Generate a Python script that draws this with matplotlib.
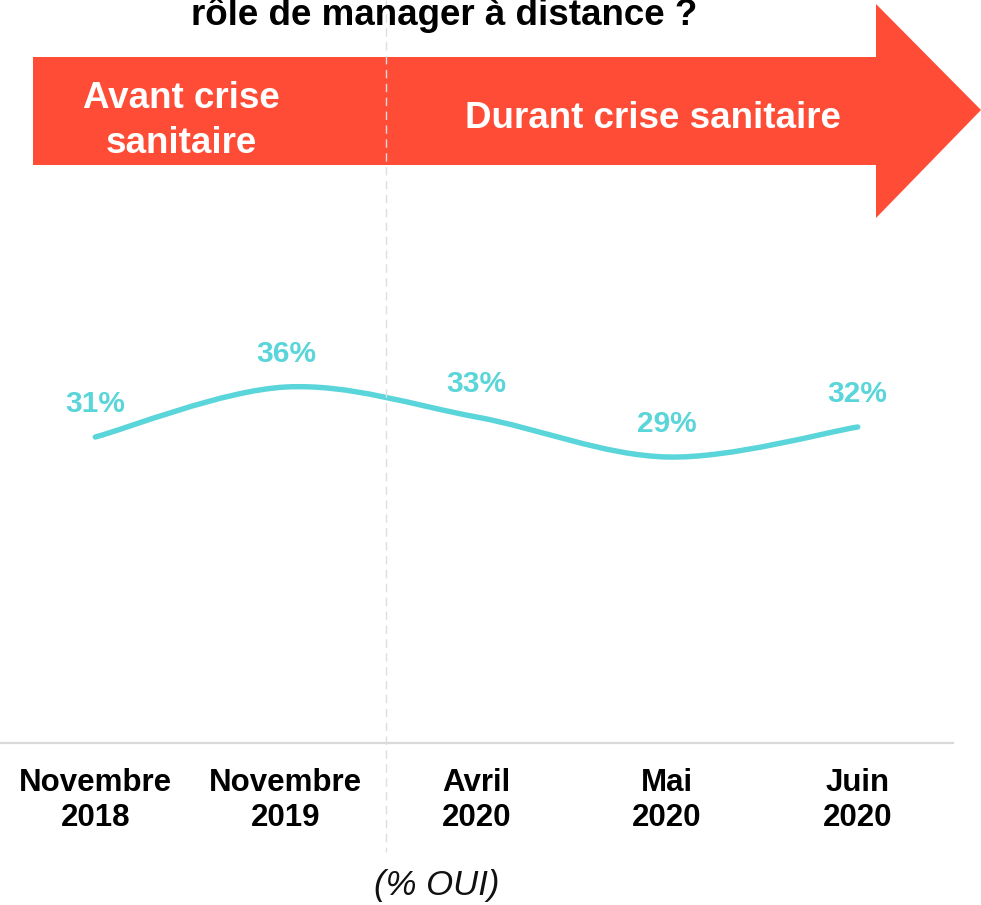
import matplotlib
matplotlib.use("Agg")
import matplotlib.pyplot as plt
from matplotlib.path import Path
from matplotlib.patches import PathPatch, Polygon
import numpy as np

plt.rcParams['font.family'] = ['Liberation Sans', 'DejaVu Sans']

# ---- data ----
categories = ["Novembre\n2018", "Novembre\n2019", "Avril\n2020", "Mai\n2020", "Juin\n2020"]
values = [31, 36, 33, 29, 32]
value_labels = ["31%", "36%", "33%", "29%", "32%"]
title_text = "rôle de manager à distance ?"
period_before = "Avant crise\nsanitaire"
period_during = "Durant crise sanitaire"
unit_note = "(% OUI)"

W, H = 981, 905
fig = plt.figure(figsize=(W / 100, H / 100), dpi=100)

def fx(px):
    return px / W

def fy(py):
    return 1 - py / H

LINE_COLOR = "#5ad5d9"
RED = "#ff4c37"

# main axes: from x=0 to 953 px, bottom at 743 px, top at 0
ax = fig.add_axes([0, fy(743), fx(953), 743 / H])
ax.set_xlim(-0.5, len(categories) - 0.5)
ax.set_ylim(0.4, 74.7)
for s in ["top", "right", "left"]:
    ax.spines[s].set_visible(False)
ax.spines["bottom"].set_color("#d9d9d9")
ax.spines["bottom"].set_linewidth(1.6)
ax.set_yticks([])
ax.set_xticks(range(len(categories)))
ax.set_xticklabels(categories, fontsize=22.5, fontweight="bold", linespacing=1.22)
ax.tick_params(axis="x", length=0, pad=18)
ax.patch.set_alpha(0)

# smooth line (Catmull-Rom -> cubic Bezier) built from the data points
xs = np.arange(len(values), dtype=float)
ys = np.array(values, dtype=float)
pts = np.column_stack([xs, ys])
ext = np.vstack([pts[0], pts, pts[-1]])
verts = [tuple(pts[0])]
codes = [Path.MOVETO]
for i in range(len(pts) - 1):
    p0, p1, p2, p3 = ext[i], ext[i + 1], ext[i + 2], ext[i + 3]
    c1 = p1 + (p2 - p0) / 6.0
    c2 = p2 - (p3 - p1) / 6.0
    verts += [tuple(c1), tuple(c2), tuple(p2)]
    codes += [Path.CURVE4, Path.CURVE4, Path.CURVE4]
patch = PathPatch(Path(verts, codes), fill=False, edgecolor=LINE_COLOR,
                  linewidth=3.9, capstyle="round", joinstyle="round", zorder=3)
ax.add_patch(patch)

for x, v, lab in zip(xs, values, value_labels):
    ax.annotate(lab, (x, v), xytext=(0, 23.5), textcoords="offset points",
                ha="center", va="center", fontsize=21.5, fontweight="bold",
                color=LINE_COLOR, zorder=4)

# arrow banner
arrow_px = [(33, 57), (876, 57), (876, 4), (981, 110), (876, 218), (876, 165), (33, 165)]
arrow = Polygon([(fx(x), fy(y)) for x, y in arrow_px], closed=True,
                transform=fig.transFigure, facecolor=RED, edgecolor="none", zorder=1)
fig.add_artist(arrow)

# separator dashed line
fig.add_artist(plt.Line2D([fx(386), fx(386)], [fy(0), fy(852)], transform=fig.transFigure,
                          color="#dedede", linewidth=1.0, linestyle=(0, (6, 4)), zorder=2))

fig.text(fx(181), fy(121), period_before, ha="center", va="center", color="white",
         fontsize=26.5, fontweight="bold", linespacing=1.34, zorder=5)
fig.text(fx(653), fy(119), period_during, ha="center", va="center", color="white",
         fontsize=26.5, fontweight="bold", zorder=5)

fig.text(fx(444), fy(25), title_text, ha="center", va="baseline", color="black",
         fontsize=26.5, fontweight="bold")

fig.text(fx(437), fy(885), unit_note, ha="center", va="center", fontsize=25,
         fontstyle="italic", color="#111111")

fig.savefig("out.png", dpi=100)
